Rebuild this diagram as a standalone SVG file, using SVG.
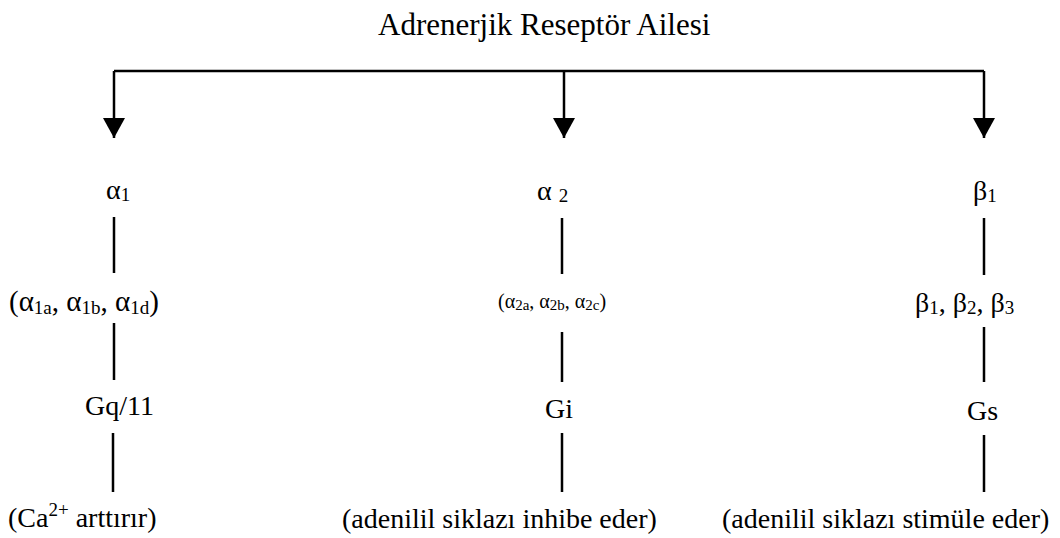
<svg xmlns="http://www.w3.org/2000/svg" width="1060" height="538" viewBox="0 0 1060 538">
<style>
text{font-family:"Liberation Serif","Times New Roman",serif;fill:#000}
.t{font-size:28px}
.title{font-size:31px}
.ln{stroke:#000;stroke-width:2.5;fill:none}
.sub{font-size:19px}
.m{font-size:20px}
.ms{font-size:15px}
</style>
<defs>
<marker id="ah" markerUnits="userSpaceOnUse" markerWidth="22" markerHeight="22" refX="20" refY="11" orient="auto">
<path d="M0,0 L20,11 L0,22 Z" fill="#000"/>
</marker>
</defs>
<rect width="1060" height="538" fill="#fff"/>
<g id="title"><text class="title" x="378" y="35">Adrenerjik Reseptör Ailesi</text></g>
<g id="connectors">
<path class="ln" d="M114,71 H984"/>
<path class="ln" d="M114,71 V138" marker-end="url(#ah)"/>
<path class="ln" d="M564,71 V138" marker-end="url(#ah)"/>
<path class="ln" d="M984,71 V138" marker-end="url(#ah)"/>
<path class="ln" d="M114,217 V273 M114,323 V380 M113,433 V492"/>
<path class="ln" d="M562,218 V274 M562,332 V382 M562,433 V492"/>
<path class="ln" d="M984,218 V275 M984,327 V382 M984,435 V492"/>
</g>
<g id="alpha1">
<text class="t" x="106" y="199">α<tspan class="sub" dy="2">1</tspan></text>
<text class="t" x="9" y="311" style="font-size:29px">(α<tspan class="sub" dy="3">1a</tspan><tspan dy="-3">, α</tspan><tspan class="sub" dy="3">1b</tspan><tspan dy="-3">, α</tspan><tspan class="sub" dy="3">1d</tspan><tspan dy="-3">)</tspan></text>
<text class="t" x="85" y="415">Gq/11</text>
<text class="t" x="8" y="527">(Ca<tspan class="sub" dy="-11">2+</tspan><tspan dy="11"> arttırır)</tspan></text>
</g>
<g id="alpha2">
<text class="t" x="537" y="200">α <tspan class="sub" dy="2">2</tspan></text>
<text class="m" x="498" y="308">(α<tspan class="ms" dy="2">2a</tspan><tspan dy="-2">, α</tspan><tspan class="ms" dy="2">2b</tspan><tspan dy="-2">, α</tspan><tspan class="ms" dy="2">2c</tspan><tspan dy="-2">)</tspan></text>
<text class="t" x="545" y="418">Gi</text>
<text class="t" x="342" y="528">(adenilil siklazı inhibe eder)</text>
</g>
<g id="beta1">
<text class="t" x="973" y="200">β<tspan class="sub" dy="2">1</tspan></text>
<text class="t" x="915" y="312">β<tspan class="sub" dy="2">1</tspan><tspan dy="-2">, β</tspan><tspan class="sub" dy="2">2</tspan><tspan dy="-2">, β</tspan><tspan class="sub" dy="2">3</tspan></text>
<text class="t" x="967" y="420">Gs</text>
<text class="t" x="722" y="528">(adenilil siklazı stimüle eder)</text>
</g>
</svg>
